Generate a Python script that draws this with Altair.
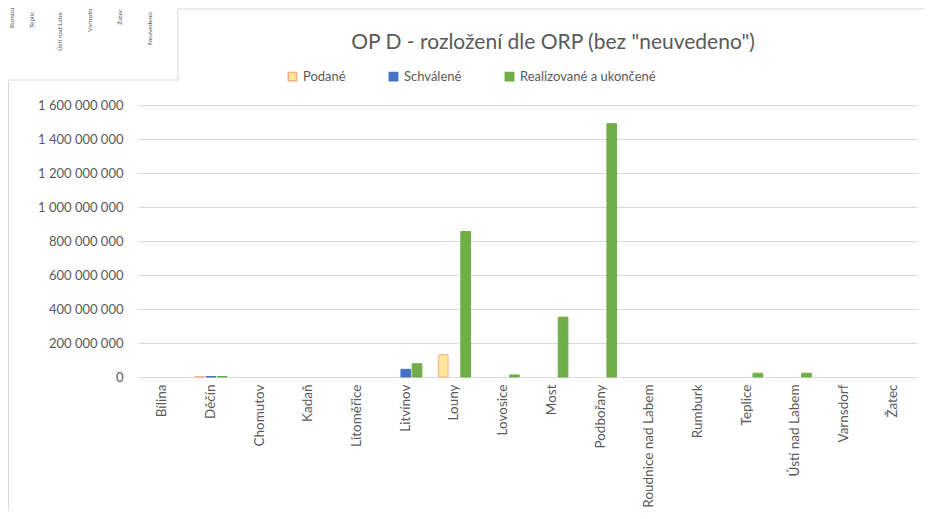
import altair as alt
import pandas as pd

categories = ["Bílina", "Děčín", "Chomutov", "Kadaň", "Litoměřice", "Litvínov", "Louny",
              "Lovosice", "Most", "Podbořany", "Roudnice nad Labem", "Rumburk", "Teplice",
              "Ústí nad Labem", "Varnsdorf", "Žatec"]
series = ["Podané", "Schválené", "Realizované a ukončené"]
podane = [0, 3e6, 0, 0, 0, 0, 131e6, 0, 0, 0, 0, 0, 0, 0, 0, 0]
schvalene = [0, 3e6, 0, 0, 0, 45e6, 0, 0, 0, 0, 0, 0, 0, 0, 0, 0]
realizovane = [0, 3e6, 0, 0, 0, 78e6, 856e6, 12e6, 352e6, 1490e6, 0, 0, 22e6, 22e6, 0, 0]
fill_colors = ["#FFE699", "#4472C4", "#70AD47"]
stroke_colors = ["#F4B183", "#4472C4", "#70AD47"]
title_text = 'OP D - rozložení dle ORP (bez "neuvedeno")'

# clipped fragment of a neighbouring chart (top-left corner of the screenshot)
frag_labels = ["Rumbu", "Teplic", "Ústí nad Labe", "Varnsdo", "Žatec", "Neuvedeno"]

rows = []
for s, vals in zip(series, [podane, schvalene, realizovane]):
    for c, v in zip(categories, vals):
        rows.append({"ORP": c, "Stav": s, "Hodnota": v})
df = pd.DataFrame(rows)

grey = "#595959"
gridc = "#D9D9D9"
FONT = "Lato"

bars = alt.Chart(df).transform_filter("datum.Hodnota > 0").mark_bar(strokeWidth=1).encode(
    x=alt.X("ORP:N", sort=categories, title=None,
            scale=alt.Scale(domain=categories, paddingInner=0.34, paddingOuter=0.17),
            axis=alt.Axis(labelAngle=-90, labelAlign="right", labelBaseline="middle",
                          labelPadding=7, ticks=False, domainColor=gridc,
                          labelColor=grey, labelFontSize=13.5, labelFont=FONT, grid=False)),
    xOffset=alt.XOffset("Stav:N", scale=alt.Scale(domain=series, paddingInner=0.14)),
    y=alt.Y("Hodnota:Q", title=None,
            scale=alt.Scale(domain=[0, 1600000000], nice=False),
            axis=alt.Axis(values=[i * 200000000 for i in range(9)],
                          labelExpr="replace(format(datum.value, ','), /,/g, ' ')",
                          domain=False, ticks=False, gridColor=gridc, labelPadding=15,
                          labelColor=grey, labelFontSize=13, labelFont=FONT)),
    color=alt.Color("Stav:N", title=None,
                    scale=alt.Scale(domain=series, range=fill_colors),
                    legend=alt.Legend(orient="none", legendX=148, legendY=-35,
                                      direction="horizontal", symbolType="square",
                                      symbolSize=70, columnPadding=40,
                                      labelFontSize=13, labelColor=grey, labelFont=FONT)),
    stroke=alt.Stroke("Stav:N", title=None,
                      scale=alt.Scale(domain=series, range=stroke_colors), legend=None),
)

one = pd.DataFrame({"t": [title_text]})
title = alt.Chart(one).mark_text(fontSize=21, font=FONT, color=grey, align="center",
                                 baseline="alphabetic").encode(
    text="t:N", x=alt.value(415), y=alt.value(-56))
border_v = alt.Chart(one).mark_rule(color=gridc, strokeWidth=1).encode(
    x=alt.value(-129.5), y=alt.value(-24), y2=alt.value(420))
border_h = alt.Chart(one).mark_rule(color=gridc, strokeWidth=1).encode(
    x=alt.value(40), x2=alt.value(800), y=alt.value(-96))
box_h = alt.Chart(one).mark_rule(color=gridc, strokeWidth=1).encode(
    x=alt.value(-131), x2=alt.value(40), y=alt.value(-25))
box_v = alt.Chart(one).mark_rule(color=gridc, strokeWidth=1).encode(
    x=alt.value(40), y=alt.value(-100), y2=alt.value(-25))

frag_df = pd.DataFrame({"t": frag_labels, "px": [-126, -106, -78, -48, -18, 12],
                        "py": [-77, -77, -54, -73, -80, -60]})
frag = alt.Chart(frag_df).mark_text(angle=270, align="left", baseline="middle",
                                    fontSize=6.5, color=grey, font=FONT).encode(
    text="t:N",
    x=alt.X("px:Q", scale=None), y=alt.Y("py:Q", scale=None))

chart = alt.layer(bars, title, border_v, border_h, box_h, box_v, frag).properties(
    width=779, height=272,
    padding={"left": 130, "top": 97, "right": 8, "bottom": 134},
    autosize=alt.AutoSizeParams(type="none"),
    background="white",
).configure_view(stroke=None)

chart.save("out.html", embed_options={"renderer": "svg", "actions": False})
